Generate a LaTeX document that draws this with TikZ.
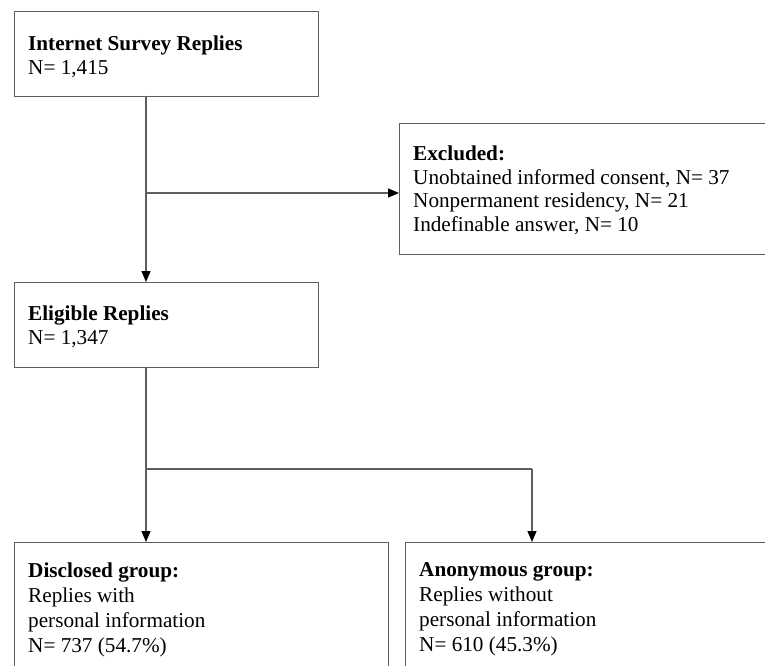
\documentclass[tikz,border=0pt]{standalone}
\usepackage{fontspec}
\setmainfont{Liberation Serif}
\usetikzlibrary{arrows.meta}
\definecolor{edge}{HTML}{5E5E5E}
\tikzset{
  box/.style={draw=edge, line width=1.4pt, rectangle, inner sep=0pt, anchor=north west},
  txt/.style={inner sep=0pt, anchor=north west, align=left, text=black,
              font=\fontsize{21.2}{23.5}\selectfont},
  txtb/.style={txt, font=\fontsize{21.2}{24.8}\selectfont},
  conn/.style={draw=edge, line width=1.4pt},
  arr/.style={conn, -{Triangle[length=11pt,width=9pt,fill=black,color=black]}}
}
\begin{document}
\begin{tikzpicture}[x=1pt,y=-1pt]
  \clip (0,0) rectangle (765,666);
  \fill[white] (0,0) rectangle (765,666);
  % boxes
  \node[box, minimum width=304pt, minimum height=85pt] (b1) at (14,11) {};
  \node[box, minimum width=400pt, minimum height=131pt] (ex) at (399,123) {};
  \node[box, minimum width=304pt, minimum height=85pt] (b2) at (14,282) {};
  \node[box, minimum width=374pt, minimum height=160pt] (dg) at (14,542) {};
  \node[box, minimum width=400pt, minimum height=160pt] (ag) at (405,542) {};
  % texts
  \node[txt] (t1) at (28,35.7) {\textbf{Internet Survey Replies}\\N= 1,415};
  \node[txt] (tex) at (413,145.7) {\textbf{Excluded:}\\Unobtained informed consent, N= 37\\Nonpermanent residency, N= 21\\Indefinable answer, N= 10};
  \node[txt] (t2) at (28,305.7) {\textbf{Eligible Replies}\\N= 1,347};
  \node[txtb] (tdg) at (28,562.7) {\textbf{Disclosed group:}\\Replies with\\personal information\\N= 737 (54.7\%)};
  \node[txtb] (tag) at (419,562.7) {\textbf{Anonymous group:}\\Replies without\\personal information\\N= 610 (45.3\%)};
  % connectors
  \coordinate (s1) at (146,96);
  \coordinate (j1) at (146,193);
  \coordinate (s2) at (146,367);
  \coordinate (j2) at (146,469);
  \coordinate (k2) at (532,469);
  \draw[arr] (s1) -- (s1 |- b2.north);
  \draw[arr] (j1) -- (j1 -| ex.west);
  \draw[arr] (s2) -- (s2 |- dg.north);
  \draw[conn] (j2) -- (k2);
  \draw[arr] (k2) -- (k2 |- ag.north);
\end{tikzpicture}
\end{document}
